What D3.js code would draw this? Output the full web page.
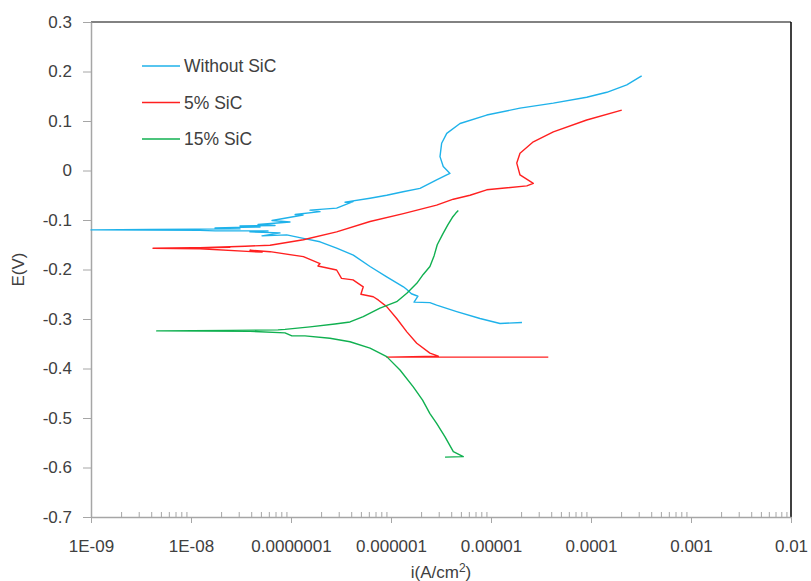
<!DOCTYPE html>
<html>
<head>
<meta charset="utf-8">
<script src="https://cdn.jsdelivr.net/npm/d3@7"></script>
<style>
  body { margin: 0; background: #fff; }
  text { font-family: "Liberation Sans", Arial, sans-serif; fill: #404040; }
</style>
</head>
<body>
<div id="chart"></div>
<script>
// Series: [current density i (A/cm2), potential E (V)]
const withoutSiC = [
  [2.04e-5, -0.307], [1.23e-5, -0.309], [7.76e-6, -0.299], [4.54e-6, -0.285],
  [2.86e-6, -0.272], [2.45e-6, -0.267], [1.70e-6, -0.266], [1.86e-6, -0.254],
  [1.60e-6, -0.249], [1.45e-6, -0.241], [1.33e-6, -0.235], [9.06e-7, -0.215],
  [6.17e-7, -0.194], [4.20e-7, -0.171], [2.86e-7, -0.157], [1.95e-7, -0.144],
  [1.33e-7, -0.137], [9.06e-8, -0.130], [5.13e-8, -0.132], [7.76e-8, -0.126],
  [3.89e-8, -0.124], [5.89e-8, -0.122], [1.74e-8, -0.122], [1.23e-8, -0.121],
  [1.0e-9, -0.120], [3.89e-9, -0.119], [3.09e-8, -0.118], [1.74e-8, -0.116],
  [4.90e-8, -0.114], [3.09e-8, -0.112], [6.92e-8, -0.111], [4.68e-8, -0.109],
  [9.77e-8, -0.104], [6.46e-8, -0.101], [1.32e-7, -0.090], [1.10e-7, -0.089],
  [1.95e-7, -0.083], [1.55e-7, -0.080], [2.86e-7, -0.076], [4.17e-7, -0.063],
  [3.47e-7, -0.064], [6.17e-7, -0.056], [9.06e-7, -0.050], [1.32e-6, -0.043],
  [1.95e-6, -0.036], [2.86e-6, -0.019], [3.61e-6, -0.009], [3.89e-6, -0.006],
  [3.33e-6, 0.008], [3.09e-6, 0.028], [3.21e-6, 0.055], [3.61e-6, 0.075],
  [4.90e-6, 0.095], [9.06e-6, 0.112], [1.95e-5, 0.126], [4.20e-5, 0.136],
  [9.06e-5, 0.148], [1.44e-4, 0.158], [2.28e-4, 0.173], [3.21e-4, 0.191]
];

const sic5 = [
  [3.74e-5, -0.377], [9.06e-7, -0.377], [2.97e-6, -0.375], [2.45e-6, -0.369],
  [1.81e-6, -0.349], [1.44e-6, -0.326], [1.14e-6, -0.299], [9.06e-7, -0.275],
  [7.50e-7, -0.262], [6.65e-7, -0.255], [5.00e-7, -0.250], [5.28e-7, -0.235],
  [4.17e-7, -0.221], [3.20e-7, -0.218], [2.86e-7, -0.201], [1.86e-7, -0.193],
  [1.95e-7, -0.188], [1.33e-7, -0.174], [6.17e-8, -0.164], [3.89e-8, -0.161],
  [5.13e-8, -0.165], [1.23e-8, -0.158], [4.17e-9, -0.157], [2.45e-8, -0.155],
  [1.23e-8, -0.156], [3.47e-8, -0.153], [6.17e-8, -0.151], [1.33e-7, -0.140],
  [2.86e-7, -0.124], [6.17e-7, -0.103], [1.33e-6, -0.087], [2.86e-6, -0.070],
  [4.20e-6, -0.058], [6.17e-6, -0.050], [9.06e-6, -0.039], [2.28e-5, -0.031],
  [2.65e-5, -0.026], [1.95e-5, -0.009], [1.81e-5, 0.015], [1.95e-5, 0.035],
  [2.65e-5, 0.058], [4.20e-5, 0.078], [9.06e-5, 0.102], [2.03e-4, 0.122]
];

const sic15 = [
  [3.47e-6, -0.579], [5.28e-6, -0.578], [4.20e-6, -0.568], [3.47e-6, -0.538],
  [2.86e-6, -0.511], [2.45e-6, -0.491], [2.07e-6, -0.464], [1.67e-6, -0.437],
  [1.23e-6, -0.403], [9.06e-7, -0.376], [6.17e-7, -0.359], [3.89e-7, -0.346],
  [2.45e-7, -0.339], [1.38e-7, -0.334], [1.02e-7, -0.334], [8.71e-8, -0.328],
  [3.89e-8, -0.325], [4.54e-9, -0.324], [2.45e-8, -0.323], [7.41e-8, -0.322],
  [8.71e-8, -0.321], [1.55e-7, -0.316], [2.75e-7, -0.310], [3.89e-7, -0.306],
  [5.28e-7, -0.295], [7.76e-7, -0.278], [1.14e-6, -0.265], [1.44e-6, -0.248],
  [1.81e-6, -0.228], [2.10e-6, -0.210], [2.45e-6, -0.194], [2.70e-6, -0.172],
  [2.90e-6, -0.150], [3.30e-6, -0.128], [3.70e-6, -0.110], [4.10e-6, -0.095],
  [4.45e-6, -0.086], [4.71e-6, -0.081]
];

const seriesNames = ["Without SiC", "5% SiC", "15% SiC"];
const seriesColors = ["#1fb2ea", "#ff2020", "#10b050"];

const xTicks = [1e-9, 1e-8, 1e-7, 1e-6, 1e-5, 1e-4, 1e-3, 1e-2];
const xTickLabels = ["1E-09", "1E-08", "0.0000001", "0.000001", "0.00001", "0.0001", "0.001", "0.01"];
const yTicks = [0.3, 0.2, 0.1, 0, -0.1, -0.2, -0.3, -0.4, -0.5, -0.6, -0.7];
const yTickLabels = ["0.3", "0.2", "0.1", "0", "-0.1", "-0.2", "-0.3", "-0.4", "-0.5", "-0.6", "-0.7"];

const W = 811, H = 581;
const margin = { top: 22, right: 20, bottom: 64, left: 91 };

const svg = d3.select("#chart").append("svg")
  .attr("width", W).attr("height", H);

const x = d3.scaleLog().domain([1e-9, 1e-2]).range([margin.left, W - margin.right]);
const y = d3.scaleLinear().domain([-0.7, 0.3]).range([H - margin.bottom, margin.top]);

// minor ticks on the log axis (2..9 in each decade)
const minorTicks = [];
for (let p = -9; p < -2; p++) {
  for (let k = 2; k <= 9; k++) minorTicks.push(k * Math.pow(10, p));
}

// frame: top dark grey, right black
svg.append("line")
  .attr("x1", x(1e-9)).attr("x2", x(1e-2))
  .attr("y1", y(0.3)).attr("y2", y(0.3))
  .attr("stroke", "#595959").attr("stroke-width", 1.5);
svg.append("line")
  .attr("x1", x(1e-2)).attr("x2", x(1e-2))
  .attr("y1", y(0.3)).attr("y2", y(-0.7))
  .attr("stroke", "#000").attr("stroke-width", 1.5);

// x axis minor ticks (pointing up)
const xMinor = svg.append("g")
  .attr("transform", `translate(0,${y(-0.7)})`)
  .call(d3.axisBottom(x).tickValues(minorTicks).tickSize(-5).tickFormat(""));
xMinor.select(".domain").remove();
xMinor.selectAll("line").attr("stroke", "#a6a6a6");

// x axis major ticks with labels
const xAxis = svg.append("g")
  .attr("transform", `translate(0,${y(-0.7)})`)
  .call(d3.axisBottom(x).tickValues(xTicks).tickSize(6).tickSizeOuter(0)
    .tickFormat((d, i) => xTickLabels[i]));
xAxis.select(".domain").attr("stroke", "#a6a6a6").attr("stroke-width", 1.5);
xAxis.selectAll("line").attr("stroke", "#a6a6a6");
xAxis.selectAll("text")
  .attr("y", 23).attr("dy", "0.71em")
  .style("font-size", "17px").style("fill", "#404040");

// y axis
const yAxis = svg.append("g")
  .attr("transform", `translate(${x(1e-9)},0)`)
  .call(d3.axisLeft(y).tickValues(yTicks).tickSize(8).tickSizeOuter(0)
    .tickFormat((d, i) => yTickLabels[i]));
yAxis.select(".domain").attr("stroke", "#a6a6a6").attr("stroke-width", 1.5);
yAxis.selectAll("line").attr("stroke", "#a6a6a6");
yAxis.selectAll("text")
  .attr("x", -19)
  .style("font-size", "17px").style("fill", "#404040");

// curves
const line = d3.line().x(d => x(d[0])).y(d => y(d[1]));
[withoutSiC, sic5, sic15].forEach((s, i) => {
  svg.append("path")
    .datum(s)
    .attr("d", line)
    .attr("fill", "none")
    .attr("stroke", seriesColors[i])
    .attr("stroke-width", 1.4)
    .attr("stroke-linejoin", "round");
});

// legend
const legend = svg.append("g");
seriesNames.forEach((name, i) => {
  const ly = 66 + i * 36.5;
  legend.append("line")
    .attr("x1", 142).attr("x2", 180).attr("y1", ly).attr("y2", ly)
    .attr("stroke", seriesColors[i]).attr("stroke-width", 1.4);
  legend.append("text")
    .attr("x", 184).attr("y", ly).attr("dy", "0.36em")
    .style("font-size", "17.5px")
    .text(name);
});

// axis titles
const xTitle = svg.append("text")
  .attr("x", (x(1e-9) + x(1e-2)) / 2).attr("y", 578)
  .attr("text-anchor", "middle")
  .style("font-size", "17px");
xTitle.append("tspan").text("i(A/cm");
xTitle.append("tspan").attr("dy", -6).style("font-size", "12px").text("2");
xTitle.append("tspan").attr("dy", 6).text(")");

svg.append("text")
  .attr("transform", `translate(24,${(y(0.3) + y(-0.7)) / 2}) rotate(-90)`)
  .attr("text-anchor", "middle")
  .style("font-size", "17px")
  .text("E(V)");
</script>
</body>
</html>
